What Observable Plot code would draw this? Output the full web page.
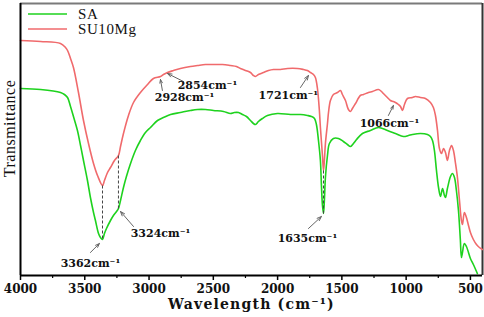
<!DOCTYPE html>
<html>
<head>
<meta charset="utf-8">
<script src="https://cdn.jsdelivr.net/npm/d3@7"></script>
<script src="https://cdn.jsdelivr.net/npm/@observablehq/plot@0.6"></script>
<style>
  body { margin: 0; background: #fff; }
  .xlabel text { letter-spacing: 1.2px; }
  .ylabel text { letter-spacing: 0.5px; }
  .legend text { letter-spacing: 0.6px; }
</style>
</head>
<body>
<div id="chart"></div>
<script>
// FTIR spectra: wavenumber (cm^-1) and transmittance (arbitrary units)
const seriesNames = ["SA", "SU10Mg"];
const seriesColors = ["#1ed21e", "#f06a6c"];

const su10mgWn = [4000,3844,3689,3650,3634,3611,3588,3549,3510,3471,3432,3401,3362,3347,3323,3300,3269,3238,3222,3199,3160,3121,3067,3012,2966,2911,2888,2857,2810,2756,2678,2623,2561,2499,2429,2367,2320,2289,2250,2211,2188,2172,2149,2110,2071,2032,1978,1923,1846,1799,1768,1744,1721,1706,1690,1675,1667,1651,1643,1636,1628,1612,1604,1589,1566,1534,1511,1496,1472,1449,1433,1418,1394,1356,1332,1293,1262,1216,1192,1177,1146,1122,1099,1083,1060,1044,1029,1013,990,951,928,889,850,811,788,772,756,741,725,709,694,679,663,647,632,617,601,585,570,562,547,531,515,500,477,453,430,407];
const su10mgT  = [235,234,232,228,225,217,208,183,155,132,112,100,90,95,103,108,115,120,129,142,160,173,183,191,197,199,201,203,205,207,209,210,211,211,211,210,209,207,205,203,200,199,201,203,205,206,206,207,207,206,205,203,201,198,187,165,148,120,105,115,132,152,163,175,181,183,185,181,175,166,164,167,172,180,181,183,184,186,184,182,178,175,174,173,171,169,165,171,177,178,179,178,177,173,168,160,145,127,122,127,123,115,125,130,125,113,98,75,55,51,63,58,50,43,36,31,28,26];

const saWn = [4000,3844,3689,3658,3634,3611,3588,3557,3533,3510,3479,3456,3432,3417,3393,3378,3362,3347,3331,3300,3277,3253,3238,3222,3199,3176,3144,3106,3067,3028,2989,2934,2888,2833,2756,2678,2623,2561,2499,2421,2367,2336,2304,2273,2242,2211,2188,2172,2149,2118,2079,2001,1900,1822,1768,1737,1713,1698,1682,1667,1659,1651,1643,1636,1628,1612,1597,1566,1527,1488,1457,1433,1410,1386,1340,1278,1216,1146,1083,1021,982,951,889,834,811,795,780,764,748,733,717,702,694,679,655,640,624,609,593,585,578,570,562,547,531,515,500,477,446];
const saT  = [187,186,183,181,178,169,159,145,130,115,95,78,63,55,42,38,36,42,47,55,60,64,67,75,88,99,112,125,135,143,148,155,158,161,163,165,166,166,165,164,162,163,163,161,159,155,152,151,154,157,160,162,161,161,160,159,157,151,135,115,90,70,62,75,98,120,132,137,137,134,131,129,132,136,142,145,148,145,142,139,140,141,142,141,139,135,125,105,88,79,87,80,78,87,99,102,98,85,65,50,35,18,23,32,29,23,17,11,2];

// dashed guide lines (wavenumber, top value on SU10Mg, bottom value on SA)
const guideWn  = [3362, 3238, 1643];
const guideTop = [90, 120, 105];
const guideBot = [36, 67, 62];

// peak annotations
const annLabels = ["3362cm⁻¹","3324cm⁻¹","1635cm⁻¹","2928cm⁻¹","2854cm⁻¹","1721cm⁻¹","1066cm⁻¹"];
const annTextWn = [3456, 2911, 1768, 2724, 2546, 1916, 1130];
const annTextT  = [12, 42, 37, 178, 190, 180, 152];
const annFromWn = [3456, 3121, 1760, 2896, 2732, 1822, 1138];
const annFromT  = [23, 49, 47, 185, 194, 188, 160];
const annToWn   = [3386, 3222, 1659, 2911, 2857, 1760, 1099];
const annToT    = [32, 64, 59, 196, 202, 200, 170];

const xMajorTicks = [4000,3500,3000,2500,2000,1500,1000,500];
const xMinorTicks = [3750,3250,2750,2250,1750,1250,750];
const xLabel = "Wavelength (cm⁻¹)";
const yLabel = "Transmittance";

const sa = saWn.map((w, i) => ({wn: w, t: saT[i]}));
const su = su10mgWn.map((w, i) => ({wn: w, t: su10mgT[i]}));
const guides = guideWn.map((w, i) => ({wn: w, top: guideTop[i], bot: guideBot[i]}));
const anns = annLabels.map((l, i) => ({
  label: l, tx: annTextWn[i], ty: annTextT[i],
  x1: annFromWn[i], y1: annFromT[i], x2: annToWn[i], y2: annToT[i]
}));

const W = 484, H = 317;
const plot = Plot.plot({
  width: W, height: H,
  marginLeft: 20, marginRight: 2, marginTop: 3, marginBottom: 42,
  style: {background: "#fff", fontFamily: "DejaVu Serif"},
  x: {domain: [4000, 406], label: null},
  y: {domain: [0, 272], axis: null},
  marks: [
    Plot.ruleY([272], {stroke: "#7a7a7a", strokeWidth: 2}),
    Plot.ruleX([406], {stroke: "#333", strokeWidth: 2}),
    Plot.line(su, {x: "wn", y: "t", stroke: seriesColors[1], strokeWidth: 1.6, curve: "catmull-rom"}),
    Plot.line(sa, {x: "wn", y: "t", stroke: seriesColors[0], strokeWidth: 1.6, curve: "catmull-rom"}),
    Plot.link(guides, {x1: "wn", x2: "wn", y1: "top", y2: "bot", stroke: "#444", strokeWidth: 1, strokeDasharray: "3,2"}),
    Plot.arrow(anns, {x1: "x1", y1: "y1", x2: "x2", y2: "y2", stroke: "#666", strokeWidth: 1, headLength: 7, headAngle: 40}),
    Plot.text(anns, {x: "tx", y: "ty", text: "label", fontSize: 11, fontWeight: "bold", fontFamily: "DejaVu Serif", fill: "#111"}),
    Plot.ruleX([4000], {stroke: "#000", strokeWidth: 2}),
    Plot.ruleY([0], {stroke: "#000", strokeWidth: 2}),
    Plot.axisX(xMajorTicks, {tickSize: 5, tickPadding: 4, strokeWidth: 1.5, fontSize: 12, fontWeight: "bold", fontFamily: "DejaVu Serif", fill: "#111", tickFormat: d => String(d), label: null}),
    Plot.axisX(xMinorTicks, {tickSize: 3, strokeWidth: 1.2, text: null, label: null}),
    Plot.text([xLabel], {frameAnchor: "bottom", dy: 33, fontSize: 14, fontWeight: "bold", fontFamily: "DejaVu Serif", fill: "#111", className: "xlabel"}),
    Plot.text([yLabel], {frameAnchor: "left", textAnchor: "middle", rotate: -90, dx: -11, dy: -11, fontSize: 16, fontFamily: "Liberation Serif", fill: "#111", className: "ylabel"})
  ]
});

// legend in the top-left corner of the frame
const svg = d3.select(plot);
const lg = svg.append("g").attr("class", "legend").attr("text-anchor", "start");
seriesNames.forEach((name, i) => {
  const yy = 14 + i * 15;
  lg.append("line").attr("x1", 28).attr("x2", 67).attr("y1", yy).attr("y2", yy)
    .attr("stroke", seriesColors[i]).attr("stroke-width", 1.6);
  lg.append("text").attr("x", 78).attr("y", yy).attr("dy", "0.35em")
    .attr("text-anchor", "start")
    .attr("font-family", "Liberation Serif").attr("font-size", 15).attr("fill", "#111").text(name);
});
document.getElementById("chart").appendChild(plot);
</script>
</body>
</html>
